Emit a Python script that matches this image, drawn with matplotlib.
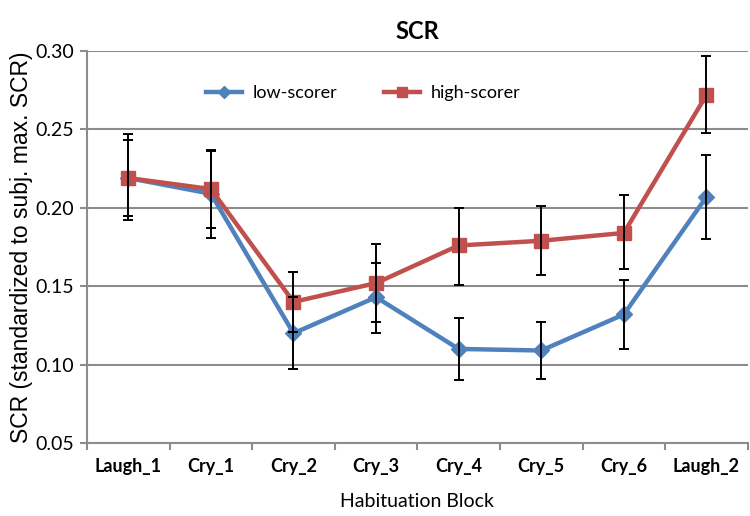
import matplotlib
matplotlib.use("Agg")
import matplotlib.pyplot as plt
import numpy as np

categories = ["Laugh_1", "Cry_1", "Cry_2", "Cry_3", "Cry_4", "Cry_5", "Cry_6", "Laugh_2"]
low_vals = [0.219, 0.209, 0.120, 0.143, 0.110, 0.109, 0.132, 0.207]
low_upper = [0.243, 0.236, 0.143, 0.165, 0.130, 0.127, 0.154, 0.234]
low_lower = [0.195, 0.181, 0.097, 0.120, 0.090, 0.091, 0.110, 0.180]
high_vals = [0.219, 0.212, 0.140, 0.152, 0.176, 0.179, 0.184, 0.272]
high_upper = [0.247, 0.237, 0.159, 0.177, 0.200, 0.201, 0.208, 0.297]
high_lower = [0.192, 0.187, 0.121, 0.127, 0.151, 0.157, 0.161, 0.248]
yticks = [0.05, 0.10, 0.15, 0.20, 0.25, 0.30]

blue = "#4F81BD"
red = "#C0504D"
gray = "#8C8C8C"

fig = plt.figure(figsize=(7.5, 5.16), dpi=100)
ax = fig.add_axes([0.116, 0.1415, 0.881, 0.7595])

x = np.arange(len(categories))
low = np.array(low_vals)
high = np.array(high_vals)

ax.plot(x, low, color=blue, lw=3.2, marker="D", ms=8.5, mfc=blue, mec=blue,
        label="low-scorer", zorder=3)
ax.plot(x, high, color=red, lw=3.2, marker="s", ms=10, mfc=red, mec=red,
        label="high-scorer", zorder=4)
ax.errorbar(x, low, yerr=[low - np.array(low_lower), np.array(low_upper) - low],
            fmt="none", ecolor="black", elinewidth=1.4, capsize=3.5, capthick=1.4, zorder=5)
ax.errorbar(x, high, yerr=[high - np.array(high_lower), np.array(high_upper) - high],
            fmt="none", ecolor="black", elinewidth=1.4, capsize=3.5, capthick=1.4, zorder=5)

ax.set_xlim(-0.5, len(categories) - 0.5)
ax.set_ylim(0.05, 0.30)
ax.set_yticks(yticks)
ax.set_yticklabels([f"{v:.2f}" for v in yticks], fontfamily="Lato", fontsize=14)
ax.yaxis.grid(True, color=gray, lw=1.5)
ax.set_axisbelow(True)

ax.set_xticks(x)
ax.set_xticklabels(categories, fontfamily="Lato", fontweight="bold", fontsize=13)
ax.set_xticks(np.arange(-0.5, len(categories) + 0.5, 1), minor=True)
ax.tick_params(axis="x", which="major", length=0, pad=11)
ax.tick_params(axis="x", which="minor", length=5, color=gray, width=1.5)
ax.tick_params(axis="y", length=5, color=gray, width=1.5, pad=4)

for s in ["top", "right"]:
    ax.spines[s].set_visible(False)
for s in ["left", "bottom"]:
    ax.spines[s].set_color(gray)
    ax.spines[s].set_linewidth(1.5)

ax.set_xlabel("Habituation Block", fontfamily="Lato", fontsize=14, labelpad=13)
ax.set_ylabel("SCR (standardized to subj. max. SCR)", fontfamily="Liberation Sans",
              fontsize=16.5, labelpad=2)
ax.set_title("SCR", fontfamily="Lato", fontweight="bold", fontsize=17, pad=9)

leg = ax.legend(loc="center", bbox_to_anchor=(0.418, 0.893), ncol=2, frameon=False,
                prop={"family": "Lato", "size": 13}, handlelength=2.0,
                handletextpad=0.6, columnspacing=2.6, markerscale=0.75)

fig.savefig("out.png", dpi=100)
